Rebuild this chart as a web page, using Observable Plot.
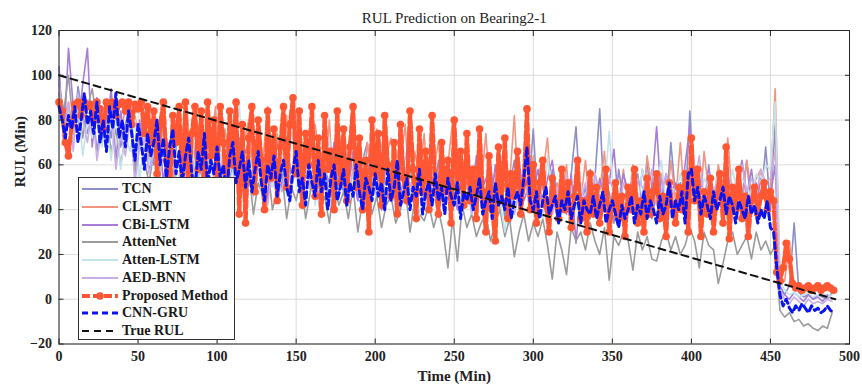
<!DOCTYPE html>
<html><head><meta charset="utf-8">
<script src="https://cdn.jsdelivr.net/npm/d3@7"></script>
<script src="https://cdn.jsdelivr.net/npm/@observablehq/plot@0.6"></script>
<style>
body{margin:0;background:#fff;}
#wrap{position:relative;width:862px;height:391px;font-family:"Liberation Serif","Times New Roman",serif;}
#legend{position:absolute;left:78px;top:177px;width:155px;height:161px;border:1px solid #333;background:#fff;}
.row{position:absolute;left:0;height:18px;display:flex;align-items:center;font-weight:bold;font-size:14px;color:#1a1a1a;white-space:nowrap;}
.row svg{margin-left:2px;margin-right:3px;}
</style>
</head><body>
<div id="wrap"><div id="legend"></div></div>
<script>
const titleText = "RUL Prediction on Bearing2-1";
const xLabel = "Time (Min)";
const yLabel = "RUL (Min)";
const xTicks = [0, 50, 100, 150, 200, 250, 300, 350, 400, 450, 500];
const yTicks = [-20, 0, 20, 40, 60, 80, 100, 120];

// sampling grids (minutes)
const time3 = d3.range(0, 490, 3);   // 0..489
const time2 = d3.range(0, 491, 2);   // 0..490

const trueTime = [0, 491];
const trueRUL = [100, 0];

const tcn = [
92,78,85,70,95,82,74,88,66,80,
84,72,90,68,78,86,62,75,82,58,
72,55,80,64,50,76,60,70,48,66,
74,56,62,80,52,68,58,72,46,64,
70,50,76,58,44,66,72,54,62,48,
68,52,60,74,46,58,64,42,70,55,
48,66,56,44,62,70,50,58,40,64,
56,46,68,52,60,42,72,50,58,44,
62,48,54,40,66,50,44,58,38,52,
46,60,42,56,36,50,62,44,54,48,
76,40,52,36,58,44,48,38,56,77,
42,50,36,54,85,40,48,34,58,44,
50,38,56,42,62,36,48,54,40,70,
46,52,38,84,44,56,40,60,36,50,
42,58,38,54,46,62,40,52,44,68,
40,78,4,2,6,34,3,1,2,0,
2,1,0,3];

const clsmt = [
86,80,88,74,84,90,78,86,82,76,
88,80,84,72,86,78,82,70,84,62,
78,58,84,66,54,80,62,86,50,72,
82,56,68,86,52,76,60,84,48,70,
80,54,72,62,86,50,74,58,82,46,
84,56,70,48,78,62,52,80,44,66,
74,50,82,58,46,70,56,76,42,64,
72,48,60,78,44,66,54,74,40,58,
70,46,60,80,42,56,68,40,62,50,
74,44,58,40,66,52,82,42,60,48,
64,40,56,72,38,52,46,60,36,54,
44,62,38,56,48,66,36,52,42,58,
40,60,46,36,64,50,42,56,38,62,
44,70,40,52,58,36,66,48,42,60,
50,72,44,56,40,62,48,54,58,46,
50,94,10,8,26,6,5,4,6,5,
4,5,6,4];

const cbiLstm = [
104,70,112,86,74,96,112,68,90,82,
76,94,62,84,70,88,58,80,66,74,
60,78,52,70,64,82,56,68,50,74,
66,54,76,60,48,70,62,56,72,50,
64,52,70,58,46,66,60,50,72,54,
62,48,68,56,44,64,58,52,70,46,
60,50,66,44,58,62,48,56,40,64,
52,62,46,58,84,48,56,42,60,50,
56,44,62,50,40,58,52,46,64,48,
54,42,60,46,56,38,52,62,44,50,
48,58,42,54,62,46,52,40,56,25,
50,44,58,40,54,46,52,67,42,56,
48,54,40,58,46,50,77,44,56,48,
52,44,60,77,46,54,42,58,48,50,
44,56,48,52,62,46,58,42,54,50,
46,60,6,2,0,3,1,-1,2,0,
1,-1,2,0];

const attenNet = [
96,84,100,78,90,72,86,94,80,70,
82,66,76,60,72,84,56,70,62,52,
66,48,72,56,62,46,68,54,44,60,
56,42,64,50,58,40,54,62,44,50,
58,38,52,46,60,40,48,56,36,50,
44,54,36,48,56,40,46,34,52,42,
48,36,50,30,44,52,38,46,32,42,
46,34,40,50,30,44,38,35,42,32,
40,30,14,36,17,42,32,38,28,34,
38,26,34,40,28,36,19,30,38,26,
34,28,36,24,9,30,22,11,32,26,
30,22,34,26,20,32,8.5,28,24,30,
26,13,30,22,28,18,17,26,30,22,
28,20,24,32,26,14,30,24,22,7,
16,26,30,20,24,28,18,30,22,26,
20,24,-5,-8,-6,-10,-9,-12,-11,-13,
-14,-12,-13,-6];

const attenLstm = [
90,76,84,70,88,64,80,72,86,68,
78,62,84,58,74,66,80,54,70,60,
74,52,68,60,78,48,66,56,72,50,
64,56,72,46,62,70,52,60,88,48,
66,54,60,44,70,50,58,64,46,56,
62,48,56,66,42,58,52,72,46,54,
60,44,56,50,64,40,54,48,58,44,
56,42,52,62,46,54,38,50,58,44,
54,40,58,46,52,42,56,38,50,44,
50,38,54,44,30,48,56,40,52,46,
48,42,36,64,44,50,38,54,46,40,
52,40,46,56,42,48,75,44,50,38,
46,54,40,58,48,44,52,62,42,50,
48,56,44,52,60,42,54,50,46,56,
52,44,58,48,54,50,46,56,52,60,
58,88,8,4,2,3,1,2,3,1,
2,3,1,2];

const aedBnn = [
98,72,88,66,92,80,70,86,62,76,
70,84,58,74,64,80,52,68,72,56,
66,50,74,58,64,44,70,54,62,48,
62,50,68,44,58,64,48,56,66,46,
60,46,64,52,42,60,56,48,62,50,
58,44,62,50,56,40,54,60,46,52,
56,42,60,48,52,38,58,46,54,44,
54,40,58,46,52,44,62,42,50,48,
52,42,56,40,50,46,54,38,48,44,
50,40,54,46,42,52,38,48,56,44,
48,40,52,44,38,50,42,56,40,46,
44,52,40,56,46,42,54,48,38,52,
46,40,54,50,44,58,42,48,56,44,
50,42,58,46,52,64,44,56,48,54,
46,56,50,44,60,48,54,46,58,52,
54,66,4,0,-2,1,-1,-3,0,-2,
-1,-2,0,-1];

const proposed = [
88,84,70,64,78,87,88,82,88,86,
87,80,88,85,76,88,86,88,82,87,
88,84,88,78,87,85,88,74,86,70,
84,56,78,88,62,46,82,70,86,52,
88,40,74,86,58,84,48,88,64,80,
52,86,70,44,84,60,88,38,78,34,
72,86,48,80,62,40,84,54,76,44,
68,86,50,78,90,56,84,42,74,60,
86,46,72,38,82,58,66,40,84,52,
76,44,68,86,50,72,40,62,30,80,
56,74,42,82,60,46,70,38,78,54,
44,84,58,36,76,48,66,40,82,52,
38,70,48,62,34,80,50,66,42,74,
44,58,36,76,48,30,64,40,26,68,
44,72,36,56,46,66,38,52,85,40,
60,34,52,62,42,30,54,44,36,58,
40,52,32,46,62,36,44,30,56,38,
50,34,44,58,30,42,52,36,46,28,
50,40,58,34,44,30,54,38,48,56,
36,46,28,52,42,34,50,40,56,30,
72,44,58,28,48,38,54,30,46,56,
34,68,27,50,40,58,36,46,28,44,
50,38,46,52,40,48,44,12,8,14,
25,18,7,5,6,4,5,6,4,5,
6,4,5,6,5,4];

const cnnGru = [
86,80,72,82,76,86,70,80,92,78,
84,74,88,70,80,66,86,76,92,72,
80,68,84,74,62,78,70,58,74,64,
70,80,60,72,54,68,76,56,66,52,
64,72,56,48,66,58,74,50,62,56,
68,54,60,46,64,70,52,58,66,50,
62,48,58,66,52,44,60,54,64,46,
56,62,50,44,58,66,48,54,42,60,
52,46,62,48,56,40,54,60,44,50,
58,42,52,46,60,48,40,54,50,44,
56,46,52,40,58,44,50,62,42,48,
54,40,50,46,58,38,48,52,42,56,
44,50,38,54,46,42,52,36,48,44,
50,40,46,54,38,44,48,36,52,42,
46,40,50,36,44,48,42,54,68,44,
40,48,36,44,50,38,42,46,34,44,
40,48,36,42,46,34,44,40,38,46,
36,42,48,34,40,44,38,32,42,36,
40,46,34,42,38,48,36,44,40,34,
46,38,42,52,36,44,40,48,34,56,
58,44,50,38,46,42,36,48,40,44,
50,38,46,42,34,44,40,36,46,38,
42,34,40,36,44,32,30,14,2,-3,
0,-4,-6,-3,-5,-2,-4,-6,-3,-5,
-4,-6,-5,-3,-5,-6];

const names = ["TCN","CLSMT","CBi-LSTM","AttenNet","Atten-LSTM","AED-BNN","Proposed Method","CNN-GRU","True RUL"];
const colors = ["#8c8fc8","#f29580","#a77dd8","#9b9b9b","#c4e2ec","#c8b0e6","#ff5733","#0a14f0","#111111"];

const bg = [tcn, clsmt, cbiLstm, attenNet, attenLstm, aedBnn];

const marks = [
  Plot.gridX(xTicks, {stroke: "#dcdcdc", strokeOpacity: 1}),
  Plot.gridY(yTicks, {stroke: "#dcdcdc", strokeOpacity: 1})
];
bg.forEach((s, k) => {
  marks.push(Plot.line(s, {x: (d, i) => time3[i], y: d => d, stroke: colors[k], strokeWidth: 1.6}));
});
marks.push(Plot.line(proposed, {x: (d, i) => time2[i], y: d => d, stroke: colors[6], strokeWidth: 4.2, strokeDasharray: "8,3"}));
marks.push(Plot.dot(proposed, {x: (d, i) => time2[i], y: d => d, r: 3.8, fill: colors[6], stroke: "none"}));
marks.push(Plot.line(cnnGru, {x: (d, i) => time2[i], y: d => d, stroke: colors[7], strokeWidth: 3, strokeDasharray: "6,4"}));
marks.push(Plot.line(trueRUL, {x: (d, i) => trueTime[i], y: d => d, stroke: colors[8], strokeWidth: 2, strokeDasharray: "7,5"}));
marks.push(Plot.frame({stroke: "#262626"}));
marks.push(Plot.axisX(xTicks, {anchor: "bottom", tickSize: 0, tickPadding: 7, label: null, fontWeight: "bold", fontSize: 14}));
marks.push(Plot.axisY(yTicks, {anchor: "left", tickSize: 0, tickPadding: 7, label: null, fontWeight: "bold", fontSize: 14}));
marks.push(Plot.axisX(xTicks, {anchor: "bottom", tickSize: -5, fill: "none", label: null, stroke: "#262626"}));
marks.push(Plot.axisX(xTicks, {anchor: "top", tickSize: -5, fill: "none", label: null, stroke: "#262626"}));
marks.push(Plot.axisY(yTicks, {anchor: "left", tickSize: -5, fill: "none", label: null, stroke: "#262626"}));
marks.push(Plot.axisY(yTicks, {anchor: "right", tickSize: -5, fill: "none", label: null, stroke: "#262626"}));
marks.push(Plot.text([titleText], {text: d => d, frameAnchor: "top", dy: -18, fontSize: 15, fontWeight: "normal", fill: "#222"}));
marks.push(Plot.text([xLabel], {text: d => d, frameAnchor: "bottom", dy: 37, fontSize: 15, fontWeight: "bold", fill: "#222"}));
marks.push(Plot.text([yLabel], {text: d => d, frameAnchor: "left", dx: -39, rotate: -90, fontSize: 15, fontWeight: "bold", fill: "#222"}));

const chart = Plot.plot({
  width: 862, height: 391,
  marginTop: 30, marginLeft: 58.5, marginRight: 13, marginBottom: 47.5,
  style: {fontFamily: "'Liberation Serif', 'Times New Roman', serif", fontSize: "14px", fontWeight: "bold", color: "#222", background: "white", overflow: "visible"},
  x: {domain: [0, 500]},
  y: {domain: [-20, 120]},
  marks
});
const wrap = document.getElementById("wrap");
wrap.insertBefore(chart, wrap.firstChild);

// legend
const legend = document.getElementById("legend");
names.forEach((name, i) => {
  const row = document.createElement("div");
  row.className = "row";
  row.style.top = (2 + i * 17.75) + "px";
  const ns = "http://www.w3.org/2000/svg";
  const svg = document.createElementNS(ns, "svg");
  svg.setAttribute("width", 38); svg.setAttribute("height", 12);
  const line = document.createElementNS(ns, "line");
  line.setAttribute("x1", 1); line.setAttribute("x2", 37);
  line.setAttribute("y1", 6); line.setAttribute("y2", 6);
  line.setAttribute("stroke", colors[i]);
  let sw = 1.8, dash = null;
  if (i === 6) { sw = 4; dash = "8,3"; }
  if (i === 7) { sw = 3; dash = "6,4"; }
  if (i === 8) { sw = 2; dash = "7,5"; }
  line.setAttribute("stroke-width", sw);
  if (dash) line.setAttribute("stroke-dasharray", dash);
  svg.appendChild(line);
  if (i === 6) {
    const c = document.createElementNS(ns, "circle");
    c.setAttribute("cx", 19); c.setAttribute("cy", 6); c.setAttribute("r", 3.8);
    c.setAttribute("fill", colors[6]);
    svg.appendChild(c);
  }
  row.appendChild(svg);
  const span = document.createElement("span");
  span.textContent = name;
  row.appendChild(span);
  legend.appendChild(row);
});
</script>
</body></html>
